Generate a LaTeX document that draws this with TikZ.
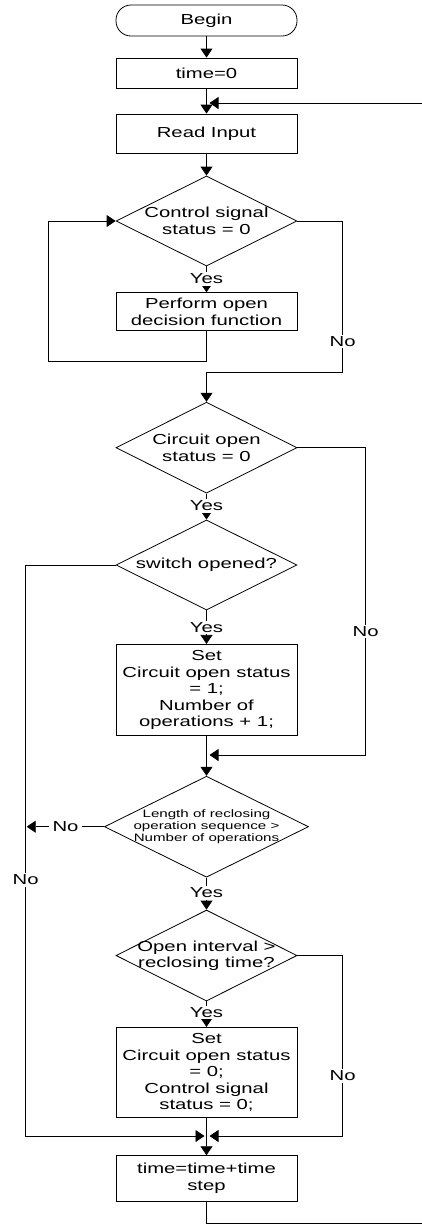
\documentclass[tikz,border=0pt]{standalone}
\usepackage{fontspec}
\setmainfont[FakeStretch=1.4]{Liberation Sans}
\usetikzlibrary{shapes.geometric,arrows.meta}

\begin{document}
\begin{tikzpicture}[x=1pt,y=-1pt,line width=0.8pt,
		font=\fontsize{14.5pt}{16.5pt}\selectfont,
		block/.style={draw,rectangle,minimum width=181pt,inner sep=0pt,align=center},
		decision/.style={draw,diamond,inner sep=0pt,minimum width=181pt,minimum height=90pt},
		txt/.style={align=center,inner sep=0pt},
		lbl/.style={fill=white,inner sep=1.5pt},
		arr/.style={-{Triangle[width=12pt,length=9pt]}}]
	\useasboundingbox (0,0) rectangle (422,1224);
	% blocks
	\node[block,rounded corners=15pt,minimum height=31pt] (begin) at (206.5,20.5) {Begin};
	\node[block,minimum height=30pt] (t0) at (206.5,73) {time=0};
	\node[block,minimum height=39pt] (readin) at (206.5,133.5) {Read Input};
	\node[decision] (d1) at (206.5,221) {};
	\node[txt] (d1t) at (d1) {Control signal\\status = 0};
	\node[block,minimum height=38pt] (perf) at (206.5,311.7) {Perform open\\decision function};
	\node[decision,minimum height=91pt] (d2) at (206.5,447.7) {};
	\node[txt] (d2t) at (d2) {Circuit open\\status = 0};
	\node[decision] (d3) at (206.5,565) {};
	\node[txt] (d3t) at (d3) {switch opened?};
	\node[block,minimum height=91.4pt] (set1) at (206.5,690) {Set\\Circuit open status\\= 1;\\Number of\\operations + 1;};
	\node[decision,minimum width=204pt,minimum height=101pt] (d4) at (206.5,826.7) {};
	\node[txt,font=\fontsize{10.8pt}{12.2pt}\selectfont] (d4t) at (d4) {Length of reclosing\\operation sequence >\\Number of operations};
	\node[decision,minimum height=91pt] (d5) at (206.5,955.5) {};
	\node[txt] (d5t) at (d5) {Open interval >\\reclosing time?};
	\node[block,minimum height=90.4pt] (set2) at (206.5,1072.5) {Set\\Circuit open status\\= 0;\\Control signal\\status = 0;};
	\node[block,minimum height=45.3pt] (tstep) at (206.5,1178.3) {time=time+time\\step};
	% corner points of the side lines
	\coordinate (l1) at (48,361);
	\coordinate (n1) at (342.7,372.3);
	\coordinate (n2) at (365.7,755);
	\coordinate (n3) at (25.7,1136);
	\coordinate (n4) at (342.7,1136);
	\coordinate (backT) at (422,103);
	\coordinate (backB) at (422,1223);
	% main line
	\draw[arr] (begin) -- (t0);
	\draw[arr] (t0) -- (readin);
	\draw[arr] (readin) -- (d1);
	\draw[arr] (d1) -- (perf);
	\draw[arr] (perf.south) |- (l1) |- (d1.west);
	\draw[arr] (d1.east) -| (n1) -| (d2.north);
	\draw[arr] (d2) -- (d3);
	\draw[arr] (d3) -- (set1);
	\draw[arr] (set1) -- (d4);
	\draw[arr] (d2.east) -| (n2) -- ([xshift=3pt]set1.south |- n2);
	\draw[arr] (d3.west) -| (n3) -- ([xshift=-2pt]set2.south |- n3);
	\draw[arr] (d4.west) -- ([xshift=1pt]d4.west -| n3);
	\draw[arr] (d4) -- (d5);
	\draw[arr] (d5) -- (set2);
	\draw[arr] (d5.east) -| (n4) -- ([xshift=3pt]set2.south |- n4);
	\draw[arr] (set2) -- (tstep);
	\draw (tstep.south) |- (backB);
	\draw[arr] (backT) -- ([xshift=3pt]readin.north |- backT);
	% branch labels
	\node[lbl] (yes1) at (206.5,279) {Yes};
	\node[lbl] (yes2) at (206.5,506) {Yes};
	\node[lbl] (yes3) at (206.5,627.7) {Yes};
	\node[lbl] (yes4) at (206.5,893) {Yes};
	\node[lbl] (yes5) at (206.5,1012.7) {Yes};
	\node[lbl] (no1) at (342.7,341.7) {No};
	\node[lbl] (no2) at (365.7,631.7) {No};
	\node[lbl] (no3) at (25.7,880) {No};
	\node[lbl,inner xsep=4pt] (no4) at (65.5,826.7) {No};
	\node[lbl] (no5) at (342.7,1076) {No};
\end{tikzpicture}
\end{document}
